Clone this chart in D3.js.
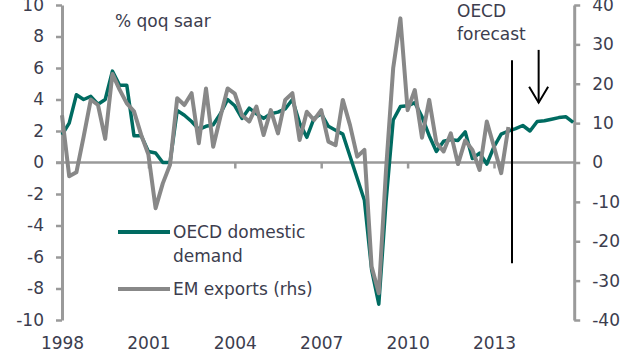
<!DOCTYPE html>
<html><head><meta charset="utf-8">
<script src="https://cdn.jsdelivr.net/npm/d3@7"></script>
<style>
html,body{margin:0;padding:0;background:#fff;}
svg{display:block;font-family:"DejaVu Sans",sans-serif;}
</style></head>
<body><svg id="c" width="640" height="360"></svg>
<script>
// Quarterly data, 1998Q1 onward
const startYear = 1998;
const oecdDomesticDemand = [
  1.75, 2.5, 4.3, 4.0,
  4.2, 3.7, 4.0, 5.8,
  4.9, 4.9, 1.7, 1.7,
  0.7, 0.6, 0.0, 0.0,
  3.3, 3.0, 2.6, 2.1,
  2.3, 2.4, 3.1, 4.0,
  3.6, 2.8, 3.45, 3.1,
  2.8, 3.1, 3.2, 3.4,
  4.0, 2.5, 1.6, 2.8,
  3.1, 2.3, 2.05, 1.8,
  0.4, -1.0, -2.4, -6.8,
  -9.0, -2.5, 2.7, 3.55,
  3.6, 3.8, 2.9, 1.7,
  0.7, 1.35, 1.45, 1.4,
  1.95, 0.25, 0.6, -0.1,
  1.0, 1.8, 2.0, 2.15,
  2.35, 2.0, 2.6, 2.65,
  2.75, 2.85, 2.9, 2.55
];
const emExports = [
  12, -3.5, -2.5, 6.5,
  16, 14.6, 6, 22.5,
  18.5, 15, 13, 7,
  2.0, -11.6, -5.3, -0.6,
  16.3, 14.6, 17.6, 4.9,
  18.8, 4.0, 11.6, 18.8,
  17.5, 12, 10.4, 14.2,
  7, 13.3, 7.4, 15.9,
  17.6, 5.7, 12.9, 10.8,
  13.3, 5.3, 4.4, 15.9,
  9.5, 1.5, 3.2, -26.4,
  -33.2, -2, 24, 36.6,
  13.3, 18.4, 6.3, 15.9,
  5.0, 2.8, 7.4, -0.4,
  5.6, 3.2, -1.9, 10.4,
  4.0, -2.7, 9.0
];
const leftTicks = [-10, -8, -6, -4, -2, 0, 2, 4, 6, 8, 10];
const rightTicks = [-40, -30, -20, -10, 0, 10, 20, 30, 40];
const yearTicks = [1998, 2001, 2004, 2007, 2010, 2013];
const seriesNames = ["OECD domestic", "demand", "EM exports (rhs)"];
const unitLabel = "% qoq saar";
const forecastLabel = ["OECD", "forecast"];
const forecastStart = 2013.625;

const green = "#006b61", grey = "#888888", axisGrey = "#9a9a9a", txt = "#3c3d4e";
const svg = d3.select("#c");

const x = d3.scaleLinear().domain([1998, 2015.75]).range([62, 573.2]);
const yL = d3.scaleLinear().domain([-10, 10]).range([320, 5]);
const yR = d3.scaleLinear().domain([-40, 40]).range([320, 5]);

const fmt = d => String(d);

// left axis
const gl = svg.append("g").attr("transform", `translate(${x(1998)},0)`)
  .call(d3.axisLeft(yL).tickValues(leftTicks).tickFormat(fmt).tickSize(6).tickSizeOuter(0).tickPadding(12));
// right axis
const gr = svg.append("g").attr("transform", `translate(${x(2015.75) + 1},0)`)
  .call(d3.axisRight(yR).tickValues(rightTicks).tickFormat(fmt).tickSize(6).tickSizeOuter(0).tickPadding(12));
[gl, gr].forEach(g => {
  g.select(".domain").attr("stroke", axisGrey).attr("stroke-width", 3);
  g.selectAll(".tick line").attr("stroke", axisGrey).attr("stroke-width", 2.5);
  g.selectAll("text").attr("fill", txt).style("font-size", "17px").style("font-family", "DejaVu Sans");
});

// zero line with year ticks
svg.append("line").attr("x1", x(1998) - 6).attr("x2", x(2015.75) + 1)
  .attr("y1", yL(0)).attr("y2", yL(0)).attr("stroke", axisGrey).attr("stroke-width", 2.5);
const gx = svg.append("g").attr("transform", `translate(0,${yL(0)})`)
  .call(d3.axisBottom(x).tickValues(yearTicks.slice(1)).tickFormat("").tickSize(6).tickSizeOuter(0));
gx.select(".domain").remove();
gx.selectAll(".tick line").attr("stroke", axisGrey).attr("stroke-width", 2.5);

// year labels
const gxl = svg.append("g").attr("transform", `translate(0,337)`)
  .call(d3.axisBottom(x).tickValues(yearTicks).tickFormat(fmt).tickSize(0).tickPadding(0));
gxl.select(".domain").remove();
gxl.selectAll("text").attr("fill", txt).style("font-size", "17px").style("font-family", "DejaVu Sans");

// lines
const qx = i => x(startYear + i / 4);
const lineL = d3.line().x((d, i) => qx(i)).y(d => yL(d));
const lineR = d3.line().x((d, i) => qx(i)).y(d => yR(d));
svg.append("path").datum(oecdDomesticDemand).attr("d", lineL)
  .attr("fill", "none").attr("stroke", green).attr("stroke-width", 3.5).attr("stroke-linejoin", "round");
svg.append("path").datum(emExports).attr("d", lineR)
  .attr("fill", "none").attr("stroke", grey).attr("stroke-width", 4).attr("stroke-linejoin", "round");

// forecast marker
svg.append("line").attr("x1", x(forecastStart)).attr("x2", x(forecastStart))
  .attr("y1", yL(6.5)).attr("y2", yL(-6.4)).attr("stroke", "#000").attr("stroke-width", 2);
const ax = x(2014.55), ay0 = yL(7.15), ay1 = yL(3.8);
svg.append("line").attr("x1", ax).attr("x2", ax).attr("y1", ay0).attr("y2", ay1)
  .attr("stroke", "#000").attr("stroke-width", 2);
svg.append("path").attr("d", `M${ax - 9.5},${ay1 - 16} L${ax},${ay1} L${ax + 9.5},${ay1 - 16}`)
  .attr("fill", "none").attr("stroke", "#000").attr("stroke-width", 2);

// texts
const tstyle = s => s.attr("fill", txt).style("font-size", "17px");
tstyle(svg.append("text").attr("x", 115).attr("y", 27).text(unitLabel));
tstyle(svg.append("text").attr("x", 457).attr("y", 17).text(forecastLabel[0]));
tstyle(svg.append("text").attr("x", 457).attr("y", 40).text(forecastLabel[1]));

// legend
svg.append("line").attr("x1", 118).attr("x2", 170).attr("y1", 232).attr("y2", 232)
  .attr("stroke", green).attr("stroke-width", 4);
svg.append("line").attr("x1", 118).attr("x2", 170).attr("y1", 289).attr("y2", 289)
  .attr("stroke", grey).attr("stroke-width", 4);
tstyle(svg.append("text").attr("x", 173).attr("y", 238).text(seriesNames[0]));
tstyle(svg.append("text").attr("x", 173).attr("y", 262).text(seriesNames[1]));
tstyle(svg.append("text").attr("x", 173).attr("y", 295).text(seriesNames[2]));
</script></body></html>
